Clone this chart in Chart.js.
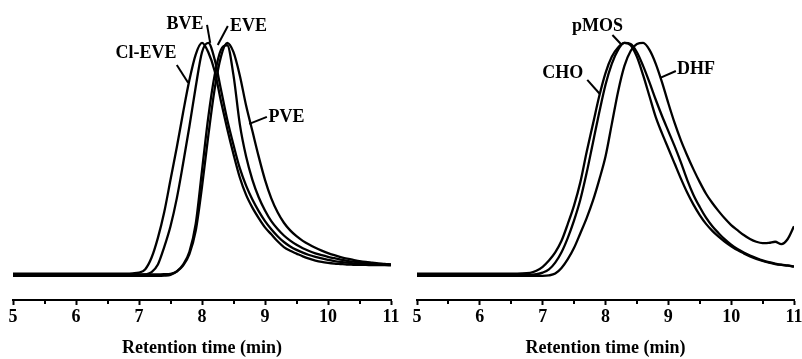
<!DOCTYPE html>
<html>
<head>
<meta charset="utf-8">
<title>GPC traces</title>
<script src="https://cdn.jsdelivr.net/npm/chart.js@4.4.1/dist/chart.umd.min.js"></script>
<style>
	body { margin: 0; background: #fff; }
	.panel { position: absolute; top: 0; }
</style>
</head>
<body>
<div class="panel" style="left:0px"><canvas id="left" width="401" height="359"></canvas></div>
<div class="panel" style="left:401px"><canvas id="right" width="401" height="359"></canvas></div>
<script>
//==========
// Data (normalized RI signal vs retention time)

const time = [5.0, 6.0, 6.5, 6.8, 6.9,
	7.0, 7.1, 7.2, 7.3, 7.4, 7.5, 7.6, 7.7, 7.8, 7.9,
	8.0, 8.1, 8.2, 8.3, 8.4, 8.5, 8.6, 8.7, 8.8, 8.9,
	9.0, 9.1, 9.2, 9.3, 9.4, 9.5, 9.6, 9.7, 9.8, 9.9,
	10.0, 10.1, 10.2, 10.3, 10.4, 10.5, 10.6, 10.7, 10.8, 10.9, 11.0];

// left panel
const clEVE = [0.006, 0.006, 0.006, 0.006, 0.007,
	0.01, 0.025, 0.075, 0.16, 0.27, 0.41, 0.55, 0.70, 0.84, 0.95,
	1.0, 0.96, 0.88, 0.75, 0.63, 0.52, 0.42, 0.345, 0.29, 0.245,
	0.205, 0.175, 0.145, 0.12, 0.104, 0.092, 0.08, 0.07, 0.062, 0.056,
	0.052, 0.049, 0.047, 0.045, 0.044, 0.043, 0.043, 0.042, 0.042, 0.042, 0.041];
const BVE = [0.0, 0.0, 0.0, 0.0, 0.0,
	0.0, 0.002, 0.012, 0.045, 0.12, 0.21, 0.33, 0.48, 0.64, 0.81,
	0.96, 1.0, 0.93, 0.80, 0.67, 0.56, 0.46, 0.385, 0.325, 0.275,
	0.232, 0.197, 0.167, 0.142, 0.123, 0.108, 0.096, 0.086, 0.078, 0.071,
	0.065, 0.06, 0.056, 0.053, 0.05, 0.048, 0.047, 0.046, 0.045, 0.044, 0.043];
const EVE = [-0.004, -0.004, -0.004, -0.004, -0.004,
	-0.004, -0.004, -0.004, -0.004, -0.003, 0.0, 0.015, 0.045, 0.10, 0.22,
	0.45, 0.68, 0.86, 0.97, 0.99, 0.86, 0.65, 0.51, 0.41, 0.335,
	0.278, 0.232, 0.198, 0.17, 0.148, 0.13, 0.115, 0.103, 0.093, 0.085,
	0.078, 0.072, 0.066, 0.061, 0.057, 0.054, 0.051, 0.049, 0.047, 0.045, 0.044];
const PVE = [0.002, 0.002, 0.002, 0.002, 0.002,
	0.002, 0.002, 0.002, 0.002, 0.003, 0.005, 0.015, 0.04, 0.09, 0.19,
	0.38, 0.60, 0.80, 0.94, 1.0, 0.96, 0.86, 0.73, 0.62, 0.51,
	0.41, 0.33, 0.27, 0.225, 0.192, 0.167, 0.147, 0.131, 0.117, 0.105,
	0.094, 0.085, 0.077, 0.07, 0.065, 0.06, 0.056, 0.053, 0.05, 0.048, 0.045];

// right panel
const CHO = [0.006, 0.006, 0.006, 0.009, 0.018,
	0.035, 0.062, 0.097, 0.147, 0.22, 0.30, 0.40, 0.53, 0.65, 0.77,
	0.87, 0.94, 0.98, 1.0, 0.99, 0.94, 0.86, 0.77, 0.68, 0.61,
	0.545, 0.48, 0.415, 0.355, 0.303, 0.258, 0.22, 0.19, 0.165, 0.143,
	0.124, 0.107, 0.093, 0.08, 0.069, 0.06, 0.053, 0.047, 0.043, 0.04, 0.036];
const pMOS = [0.0, 0.0, 0.0, 0.0, 0.003,
	0.01, 0.024, 0.053, 0.098, 0.16, 0.235, 0.325, 0.44, 0.57, 0.70,
	0.82, 0.91, 0.97, 1.0, 0.995, 0.96, 0.90, 0.83, 0.755, 0.685,
	0.62, 0.555, 0.485, 0.41, 0.345, 0.293, 0.247, 0.21, 0.18, 0.153,
	0.13, 0.112, 0.097, 0.084, 0.073, 0.063, 0.055, 0.049, 0.044, 0.041, 0.037];
const DHF = [-0.004, -0.004, -0.004, -0.004, -0.004,
	-0.004, -0.002, 0.006, 0.03, 0.068, 0.117, 0.18, 0.245, 0.32, 0.41,
	0.51, 0.65, 0.79, 0.90, 0.965, 0.995, 1.0, 0.97, 0.91, 0.83,
	0.74, 0.655, 0.58, 0.515, 0.455, 0.40, 0.35, 0.31, 0.275, 0.243,
	0.215, 0.193, 0.172, 0.155, 0.143, 0.137, 0.138, 0.143, 0.133, 0.155, 0.21];

const majorStep = 1;
const minorTickValues = [5.5, 6.5, 7.5, 8.5, 9.5, 10.5];

// curve labels: text centre and pointer line, in data units
const leftNotes = [
	{text: "BVE", at: [7.73, 1.082], from: [8.08, 1.078], to: [8.13, 1.0]},
	{text: "EVE", at: [8.74, 1.073], from: [8.41, 1.073], to: [8.25, 0.991]},
	{text: "Cl-EVE", at: [7.11, 0.953], from: [7.60, 0.905], to: [7.78, 0.828]},
	{text: "PVE", at: [9.34, 0.679], from: [9.03, 0.681], to: [8.75, 0.651]}
];
const rightNotes = [
	{text: "pMOS", at: [7.874, 1.073], from: [8.11, 1.034], to: [8.26, 0.991]},
	{text: "CHO", at: [7.32, 0.869], from: [7.71, 0.841], to: [7.91, 0.78]},
	{text: "DHF", at: [9.44, 0.884], from: [9.12, 0.879], to: [8.87, 0.849]}
];

//==========
// Plugins

const SERIF = "'Liberation Serif', 'Times New Roman', serif";

const minorTicks = {
	id: "minorTicks",
	afterDraw(chart){
		const xs = chart.scales.x;
		const ctx = chart.ctx;
		ctx.save();
		ctx.strokeStyle = "#000";
		ctx.lineWidth = 2;
		for(let v of minorTickValues){
			const px = Math.round(xs.getPixelForValue(v));
			ctx.beginPath();
			ctx.moveTo(px, xs.top);
			ctx.lineTo(px, xs.top + 4);
			ctx.stroke();
		}
		ctx.restore();
	}
};

const curveLabels = {
	id: "curveLabels",
	afterDraw(chart, args, opts){
		const xs = chart.scales.x;
		const ys = chart.scales.y;
		const ctx = chart.ctx;
		ctx.save();
		ctx.fillStyle = "#000";
		ctx.strokeStyle = "#000";
		ctx.lineWidth = 2;
		ctx.font = "bold 18px " + SERIF;
		ctx.textAlign = "center";
		ctx.textBaseline = "middle";
		for(let n of opts.items){
			ctx.fillText(n.text, xs.getPixelForValue(n.at[0]), ys.getPixelForValue(n.at[1]));
			ctx.beginPath();
			ctx.moveTo(xs.getPixelForValue(n.from[0]), ys.getPixelForValue(n.from[1]));
			ctx.lineTo(xs.getPixelForValue(n.to[0]), ys.getPixelForValue(n.to[1]));
			ctx.stroke();
		}
		ctx.restore();
	}
};

//==========
// Chart

function makeChart(id, series, notes, padLeft, padRight){
	const ctx = document.getElementById(id).getContext("2d");
	return new Chart(ctx, {
		type: "line",
		data: {
			datasets: series.map(s => ({
				label: s.name,
				data: time.map((t, i) => ({x: t, y: s.values[i]})),
				borderColor: "#000",
				borderWidth: 2.3,
				pointRadius: 0,
				fill: false,
				cubicInterpolationMode: "monotone"
			}))
		},
		options: {
			responsive: false,
			animation: false,
			layout: {padding: {left: padLeft, right: padRight, top: 0, bottom: 0}},
			plugins: {
				legend: {display: false},
				tooltip: {enabled: false},
				curveLabels: {items: notes}
			},
			scales: {
				x: {
					type: "linear",
					min: 5,
					max: 11,
					ticks: {
						stepSize: majorStep,
						color: "#000",
						padding: 2,
						maxRotation: 0,
						font: {family: SERIF, size: 18, weight: "bold"}
					},
					grid: {
						drawOnChartArea: false,
						drawTicks: true,
						tickLength: 5,
						tickWidth: 2,
						tickColor: "#000"
					},
					border: {display: true, color: "#000", width: 2},
					title: {
						display: true,
						text: "Retention time (min)",
						color: "#000",
						padding: {top: 0, bottom: 0},
						font: {family: SERIF, size: 18, weight: "bold"}
					},
					afterFit(scale){
						scale.height = 59;
						scale.paddingLeft = 0;
						scale.paddingRight = 0;
					}
				},
				y: {
					display: false,
					min: -0.108,
					max: 1.185
				}
			}
		},
		plugins: [minorTicks, curveLabels]
	});
}

makeChart("left", [
	{name: "Cl-EVE", values: clEVE},
	{name: "BVE", values: BVE},
	{name: "EVE", values: EVE},
	{name: "PVE", values: PVE}
], leftNotes, 13, 10);

makeChart("right", [
	{name: "CHO", values: CHO},
	{name: "pMOS", values: pMOS},
	{name: "DHF", values: DHF}
], rightNotes, 16, 8);
</script>
</body>
</html>
